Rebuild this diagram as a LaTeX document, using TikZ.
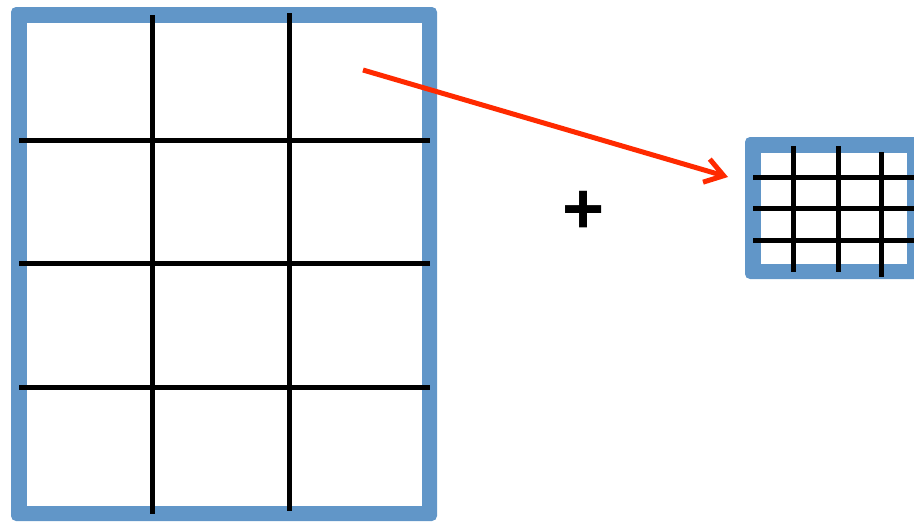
\documentclass[tikz,border=0pt]{standalone}
\usepackage{fontspec}
\setmainfont{Liberation Sans}
\usetikzlibrary{arrows.meta}
\definecolor{frameblue}{RGB}{97,150,200}
\definecolor{arrowred}{RGB}{255,42,0}
\begin{document}
\begin{tikzpicture}[x=1pt,y=-1pt,
  frame/.style={fill=frameblue,rounded corners=5pt},
  pane/.style={fill=white},
  gridline/.style={line width=5pt,black},
  redarrow/.style={line width=5pt,arrowred,-{Straight Barb[length=18pt,width=24pt,line width=5pt]}}]
\useasboundingbox (0,0) rectangle (914,522);
\clip (0,0) rectangle (914,522);
% big frame
\fill[frame] (11,7) rectangle (437,521);
\fill[pane] (27,23) rectangle (422,506);
\draw[gridline] (152,15) -- (152,514);
\draw[gridline] (289,13) -- (289,511);
\draw[gridline] (19,140) -- (430,140);
\draw[gridline] (19,263) -- (430,263);
\draw[gridline] (19,387) -- (430,387);
% small frame
\fill[frame] (745,137) rectangle (922,279);
\fill[pane] (761,153) rectangle (907,264);
\draw[gridline] (793,146) -- (793,272);
\draw[gridline] (838,146) -- (838,272);
\draw[gridline] (881,152) -- (881,277);
\draw[gridline] (753,177) -- (914,177);
\draw[gridline] (753,208) -- (914,208);
\draw[gridline] (753,240) -- (914,240);
% plus
\node[inner sep=0pt] (plus) at (583.5,212) {\fontsize{72}{72}\selectfont\bfseries +};
% arrow
\coordinate (astart) at (363,70);
\coordinate (aend) at (728,177);
\draw[redarrow] (astart) -- (aend);
\end{tikzpicture}
\end{document}
